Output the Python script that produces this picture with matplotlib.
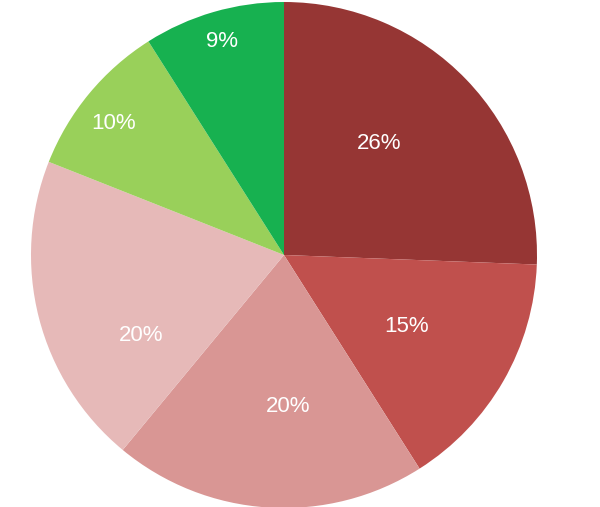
import numpy as np
import matplotlib.pyplot as plt

# slice shares, clockwise from 12 o'clock
values = [25.6, 15.4, 20.0, 20.0, 10.0, 9.0]
colors = ['#963634', '#c0504d', '#d99694', '#e6b9b8', '#99d05a', '#17b150']

# label placement (radius as fraction, angle nudge in degrees)
label_r = [0.58, 0.56, 0.60, 0.65, 0.85, 0.88]
label_shift = [5.5, -0.4, 5.0, 15.0, 2.0, 0.0]

fig = plt.figure(figsize=(6, 5.07), dpi=100)
ax = fig.add_axes([31 / 600, -1 / 507, 506 / 600, 506 / 507])

wedges, _ = ax.pie(values, colors=colors, startangle=90, counterclock=False,
                   radius=1.0, wedgeprops=dict(linewidth=0))

for w, v, r, s in zip(wedges, values, label_r, label_shift):
    mid = np.deg2rad((w.theta1 + w.theta2) / 2 + s)
    ax.text(r * np.cos(mid), r * np.sin(mid), '%.0f%%' % v,
            ha='center', va='center', color='white', fontsize=16,
            family=['Liberation Sans', 'DejaVu Sans'])

ax.set_xlim(-1, 1)
ax.set_ylim(-1, 1)
ax.set_aspect('equal')
ax.axis('off')

fig.savefig('out.png', dpi=100)
